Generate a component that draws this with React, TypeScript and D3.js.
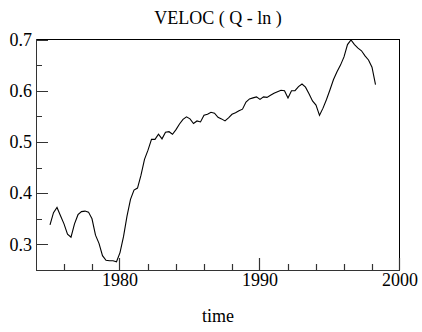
import React from "react";
import * as d3 from "d3";

const title = "VELOC ( Q - ln )";
const xLabel = "time";
const startYear = 1975;
const stepsPerYear = 4;
const veloc = [
  0.338, 0.362, 0.372, 0.356, 0.340, 0.320, 0.314, 0.340,
  0.358, 0.364, 0.365, 0.363, 0.350, 0.318, 0.302, 0.278,
  0.269, 0.268, 0.268, 0.266, 0.284, 0.315, 0.355, 0.388,
  0.406, 0.410, 0.435, 0.466, 0.484, 0.505, 0.505, 0.515,
  0.506, 0.519, 0.520, 0.515, 0.524, 0.535, 0.544, 0.549,
  0.545, 0.536, 0.541, 0.539, 0.552, 0.554, 0.558, 0.556,
  0.548, 0.545, 0.541, 0.547, 0.554, 0.557, 0.561, 0.564,
  0.578, 0.584, 0.586, 0.588, 0.583, 0.588, 0.587, 0.591,
  0.595, 0.598, 0.601, 0.600, 0.586, 0.600, 0.600, 0.608,
  0.613, 0.607, 0.594, 0.580, 0.572, 0.552, 0.566, 0.583,
  0.602, 0.622, 0.637, 0.650, 0.666, 0.690, 0.699, 0.690,
  0.683, 0.678, 0.668, 0.660, 0.646, 0.612,
];
const xMajorTicks = [1980, 1990, 2000];
const xMinorTicks = [1976, 1978, 1982, 1984, 1986, 1988, 1992, 1994, 1996, 1998];
const yMajorTicks = [0.3, 0.4, 0.5, 0.6, 0.7];
const yMinorTicks = [0.35, 0.45, 0.55, 0.65];

const W = 422, H = 332;
const L = 36, R = 400, T = 39.5, B = 270;
const font = "'Liberation Serif', 'Times New Roman', serif";

export default function App() {
  const x = d3.scaleLinear().domain([1974, 2000]).range([L, R]);
  const y = d3.scaleLinear().domain([0.25, 0.7]).range([B, T]);
  const pts: [number, number][] = veloc.map((v, i) => [startYear + i / stepsPerYear, v]);
  const line = d3.line<[number, number]>().x((d) => x(d[0])).y((d) => y(d[1]));
  const axisColor = "#333";
  let tickPath = "";
  yMajorTicks.forEach((t) => { const yy = Math.round(y(t)) + 0.5; tickPath += `M${L},${yy}H${L + 12}`; });
  yMinorTicks.forEach((t) => { const yy = Math.round(y(t)) + 0.5; tickPath += `M${L},${yy}H${L + 6}`; });
  xMajorTicks.forEach((t) => { const xx = Math.round(x(t)) - 0.5; tickPath += `M${xx},${B}V${B - 12}`; });
  xMinorTicks.forEach((t) => { const xx = Math.round(x(t)) + 0.5; tickPath += `M${xx},${B}V${B - 6}`; });
  return (
    <svg width={W} height={H} style={{ position: "absolute", left: 0, top: 0, background: "#fff" }}>
      <rect x={0} y={0} width={W} height={H} fill="#fff" />
      <text x={(L + R) / 2} y={24} textAnchor="middle" fontFamily={font} fontSize={18} fill="#000">{title}</text>
      <rect x={L} y={39} width={R - L} height={1} fill="#000" />
      <rect x={R - 1} y={39} width={1} height={B - 39 + 1} fill="#000" />
      <rect x={L} y={39} width={1} height={B - 39 + 1} fill={axisColor} />
      <rect x={L} y={B} width={R - L} height={1} fill={axisColor} />
      <path d={tickPath} fill="none" stroke={axisColor} strokeWidth={1.2} />
      {yMajorTicks.map((t) => (
        <text key={"yl" + t} x={32} y={y(t)} dy="0.35em" textAnchor="end" fontFamily={font} fontSize={18} fill="#000">{t.toFixed(1)}</text>
      ))}
      {xMajorTicks.map((t) => (
        <text key={"xl" + t} x={x(t)} y={286} textAnchor="middle" fontFamily={font} fontSize={18} fill="#000">{t}</text>
      ))}
      <text x={(L + R) / 2} y={322} textAnchor="middle" fontFamily={font} fontSize={18} fill="#000">{xLabel}</text>
      <path d={line(pts) || ""} fill="none" stroke="#000" strokeWidth={1.1} />
    </svg>
  );
}
